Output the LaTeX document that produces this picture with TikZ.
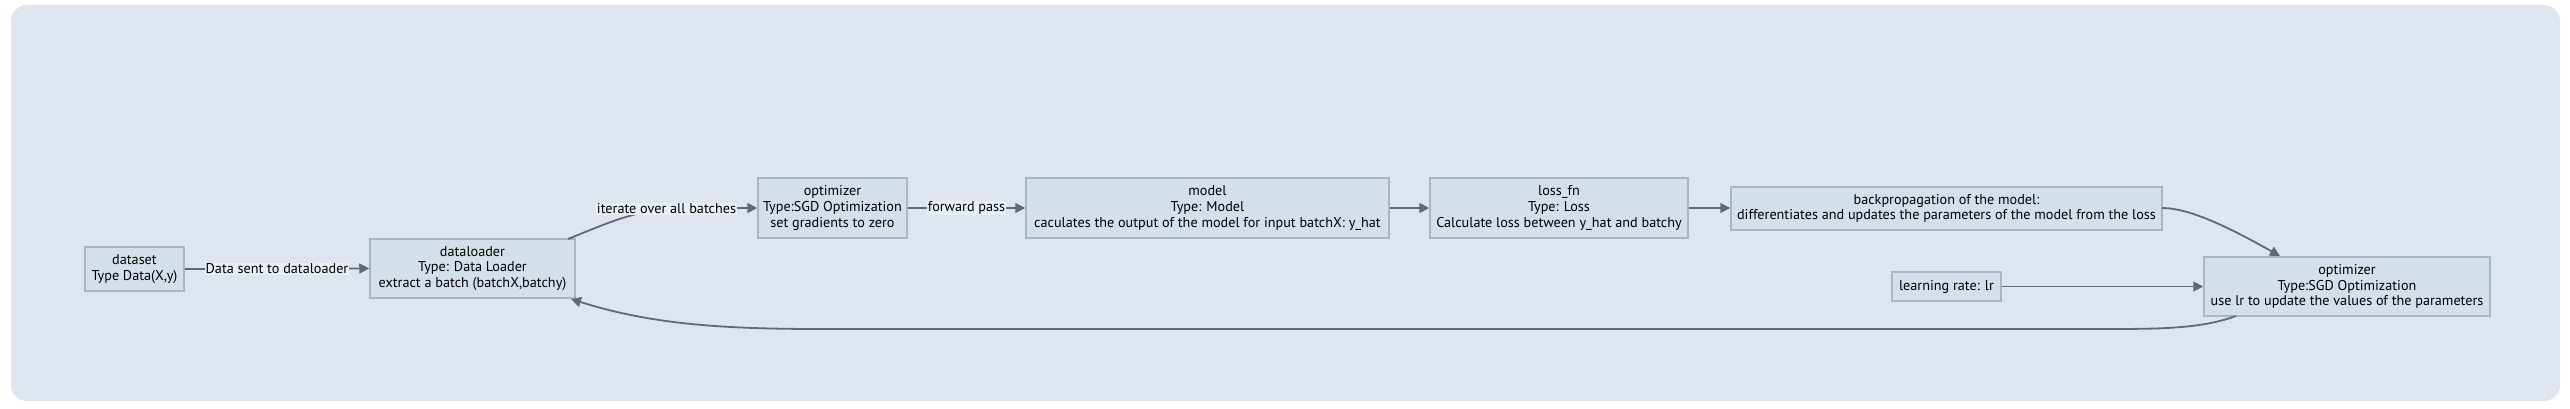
\documentclass[tikz,border=0pt]{standalone}
\usepackage{fontspec}
\setmainfont{PT Sans}
\usetikzlibrary{arrows.meta}
\definecolor{bgc}{HTML}{DFE5EF}
\definecolor{nodefill}{HTML}{D5DFEA}
\definecolor{nodeline}{HTML}{A9B5C3}
\definecolor{edgec}{HTML}{5F6977}
\definecolor{lblfill}{HTML}{E8EEF6}
\tikzset{
  x=1pt, y=-1pt,
  box/.style={draw=nodeline, fill=nodefill, line width=1.5pt, align=center,
    inner sep=0pt, font=\fontsize{14.2}{15.7}\selectfont, text=black},
  edge/.style={draw=edgec, line width=1.8pt, -{Triangle[length=10pt,width=10pt]}},
  lbl/.style={fill=lblfill, inner sep=1pt, font=\fontsize{14.2}{15.7}\selectfont, text=black}
}
\begin{document}
\begin{tikzpicture}
\useasboundingbox (0,0) rectangle (2570,408);
\fill[bgc, rounded corners=16pt] (11,5) rectangle (2560,401);

\node[box, minimum width=99pt, minimum height=44pt] (dataset) at (134.5,269) {dataset\\Type Data(X,y)};
\node[box, minimum width=205pt, minimum height=59pt] (loader) at (472.5,268.5) {dataloader\\Type: Data Loader\\extract a batch (batchX,batchy)};
\node[box, minimum width=149pt, minimum height=60pt] (opt1) at (832.5,208) {optimizer\\Type:SGD Optimization\\set gradients to zero};
\node[box, minimum width=363pt, minimum height=60pt] (model) at (1207.5,208) {model\\Type: Model\\caculates the output of the model for input batchX: y\_hat};
\node[box, minimum width=258pt, minimum height=60pt] (loss) at (1559,208) {loss\_fn\\Type: Loss\\Calculate loss between y\_hat and batchy};
\node[box, minimum width=431pt, minimum height=43pt] (back) at (1946.5,208.5) {backpropagation of the model:\\differentiates and updates the parameters of the model from the loss};
\node[box, minimum width=109pt, minimum height=29pt] (lr) at (1946.5,286.5) {learning rate: lr};
\node[box, minimum width=286pt, minimum height=59pt] (opt2) at (2347,286.5) {optimizer\\Type:SGD Optimization\\use lr to update the values of the parameters};

\coordinate (dlne) at (568,239);
\coordinate (dlse) at (571,299);
\coordinate (o2s) at (2236,316);
\coordinate (bk) at (2162,208);
\coordinate (o2n) at (2280,256);

% dataset -> dataloader
\draw[edge] (dataset.east) -- (loader.west) node[lbl, midway] (l1) {Data sent to dataloader};
% dataloader -> optimizer
\draw[edge] (dlne) .. controls (615,220) and (640,208) .. (690,208) -- (opt1.west);
\node[lbl] (l2) at (666.5,209) {iterate over all batches};
% optimizer -> model
\draw[edge] (opt1.east) -- (model.west) node[lbl, midway] (l3) {forward pass};
% model -> loss
\draw[edge] (model.east) -- (loss.west);
% loss -> backprop
\draw[edge] (loss.east) -- (back.west |- loss.east);
% backprop -> optimizer2
\draw[edge] (bk) .. controls (2190,208) and (2230,228) .. (o2n);
% lr -> optimizer2
\draw[edge] (lr.east) -- (opt2.west);
% optimizer2 -> dataloader
\draw[edge] (o2s) .. controls (2200,329) and (2160,329) .. (2100,329) -- (820,329) .. controls (720,329) and (650,324) .. (dlse);
\end{tikzpicture}
\end{document}
